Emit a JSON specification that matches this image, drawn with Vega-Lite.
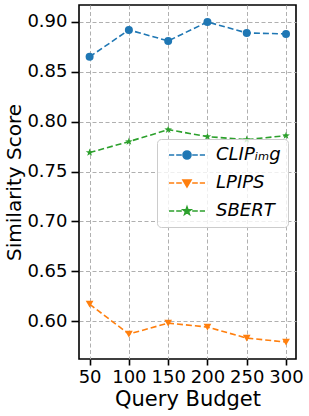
{
  "$schema": "https://vega.github.io/schema/vega-lite/v6.json",
  "width": 217,
  "height": 354,
  "autosize": {"type": "none"},
  "padding": {"left": 79, "top": 5, "right": 13, "bottom": 57},
  "config": {
    "font": "DejaVu Sans",
    "view": {"stroke": "#000000", "strokeWidth": 1.6},
    "axis": {
      "domain": false,
      "grid": true,
      "gridColor": "#b0b0b0",
      "gridDash": [4, 2.5],
      "gridWidth": 1,
      "tickColor": "#000000",
      "tickWidth": 1.6,
      "labelFont": "DejaVu Sans",
      "labelFontSize": 18,
      "labelColor": "#000000",
      "labelPadding": 4,
      "titleFont": "DejaVu Sans",
      "titleFontSize": 21,
      "titleFontWeight": "normal",
      "titleColor": "#000000"
    },
    "legend": {
      "orient": "none",
      "legendX": 78,
      "legendY": 134,
      "padding": 7,
      "fillColor": "rgba(255,255,255,0.8)",
      "strokeColor": "#cccccc",
      "cornerRadius": 4,
      "labelFont": "DejaVu Sans",
      "labelFontSize": 18,
      "labelFontStyle": "italic",
      "labelColor": "#000000",
      "rowPadding": 10,
      "symbolSize": 64,
      "symbolStrokeWidth": 1.6,
      "symbolOffset": 14,
      "labelOffset": 20
    }
  },
  "data": {
    "values": [
      {"budget": 50, "series": "CLIP", "score": 0.865},
      {"budget": 100, "series": "CLIP", "score": 0.892},
      {"budget": 150, "series": "CLIP", "score": 0.881},
      {"budget": 200, "series": "CLIP", "score": 0.900},
      {"budget": 250, "series": "CLIP", "score": 0.889},
      {"budget": 300, "series": "CLIP", "score": 0.888},
      {"budget": 50, "series": "LPIPS", "score": 0.617},
      {"budget": 100, "series": "LPIPS", "score": 0.587},
      {"budget": 150, "series": "LPIPS", "score": 0.598},
      {"budget": 200, "series": "LPIPS", "score": 0.594},
      {"budget": 250, "series": "LPIPS", "score": 0.583},
      {"budget": 300, "series": "LPIPS", "score": 0.579},
      {"budget": 50, "series": "SBERT", "score": 0.769},
      {"budget": 100, "series": "SBERT", "score": 0.780},
      {"budget": 150, "series": "SBERT", "score": 0.792},
      {"budget": 200, "series": "SBERT", "score": 0.785},
      {"budget": 250, "series": "SBERT", "score": 0.782},
      {"budget": 300, "series": "SBERT", "score": 0.786}
    ]
  },
  "encoding": {
    "x": {
      "field": "budget",
      "type": "quantitative",
      "scale": {"domain": [36.5, 312.7], "nice": false, "zero": false},
      "axis": {"values": [50, 100, 150, 200, 250, 300], "title": "Query Budget", "titlePadding": 2, "tickSize": 6, "labelPadding": 3}
    },
    "y": {
      "field": "score",
      "type": "quantitative",
      "scale": {"domain": [0.562, 0.917], "nice": false, "zero": false},
      "axis": {"values": [0.6, 0.65, 0.7, 0.75, 0.8, 0.85, 0.9], "format": ".2f", "title": "Similarity Score", "titlePadding": 2, "titleFontSize": 20, "tickSize": 8, "labelPadding": 4}
    }
  },
  "layer": [
    {
      "transform": [{"filter": "datum.series == 'CLIP'"}],
      "layer": [
        {"mark": {"type": "line", "strokeDash": [6, 3], "strokeWidth": 1.6, "color": "#1f77b4"}},
        {"mark": {"type": "point", "filled": true, "opacity": 1, "size": 64, "shape": "circle", "color": "#1f77b4"}}
      ]
    },
    {
      "transform": [{"filter": "datum.series == 'LPIPS'"}],
      "layer": [
        {"mark": {"type": "line", "strokeDash": [6, 3], "strokeWidth": 1.6, "color": "#ff7f0e"}},
        {"mark": {"type": "point", "filled": true, "opacity": 1, "size": 60, "shape": "triangle-down", "color": "#ff7f0e"}}
      ]
    },
    {
      "transform": [{"filter": "datum.series == 'SBERT'"}],
      "layer": [
        {"mark": {"type": "line", "strokeDash": [6, 3], "strokeWidth": 1.6, "color": "#2ca02c"}},
        {"mark": {"type": "point", "filled": true, "opacity": 1, "size": 64, "color": "#2ca02c", "shape": "M0,-1L0.235,-0.324L0.951,-0.309L0.38,0.124L0.588,0.809L0,0.4L-0.588,0.809L-0.38,0.124L-0.951,-0.309L-0.235,-0.324Z"}}
      ]
    },
    {
      "transform": [{"filter": "datum.score < 0"}],
      "mark": {"type": "point", "filled": true, "opacity": 1, "size": 64, "strokeWidth": 1.6},
      "encoding": {
        "fill": {
          "field": "series",
          "type": "nominal",
          "scale": {"domain": ["CLIP", "LPIPS", "SBERT"], "range": ["#1f77b4", "#ff7f0e", "#2ca02c"]},
          "legend": {"title": null, "labelExpr": "datum.label == 'CLIP' ? 'CLIPᵢₘg' : datum.label"}
        },
        "stroke": {
          "field": "series",
          "type": "nominal",
          "scale": {"domain": ["CLIP", "LPIPS", "SBERT"], "range": ["#1f77b4", "#ff7f0e", "#2ca02c"]},
          "legend": {"title": null, "labelExpr": "datum.label == 'CLIP' ? 'CLIPᵢₘg' : datum.label"}
        },
        "shape": {
          "field": "series",
          "type": "nominal",
          "scale": {
            "domain": ["CLIP", "LPIPS", "SBERT"],
            "range": [
              "M-4.5,0L-3.2,0M-2.7,0L-1.3,0M1.3,0L2.7,0M3.2,0L4.5,0M-1,0A1,1 0 1,0 1,0A1,1 0 1,0 -1,0Z",
              "M-4.5,0L-3.2,0M-2.7,0L-1.3,0M1.3,0L2.7,0M3.2,0L4.5,0M-1,-0.75L1,-0.75L0,0.95Z",
              "M-4.5,0L-3.2,0M-2.7,0L-1.3,0M1.3,0L2.7,0M3.2,0L4.5,0M0,-1L0.235,-0.324L0.951,-0.309L0.38,0.124L0.588,0.809L0,0.4L-0.588,0.809L-0.38,0.124L-0.951,-0.309L-0.235,-0.324Z"
            ]
          },
          "legend": {"title": null, "labelExpr": "datum.label == 'CLIP' ? 'CLIPᵢₘg' : datum.label"}
        }
      }
    }
  ]
}
